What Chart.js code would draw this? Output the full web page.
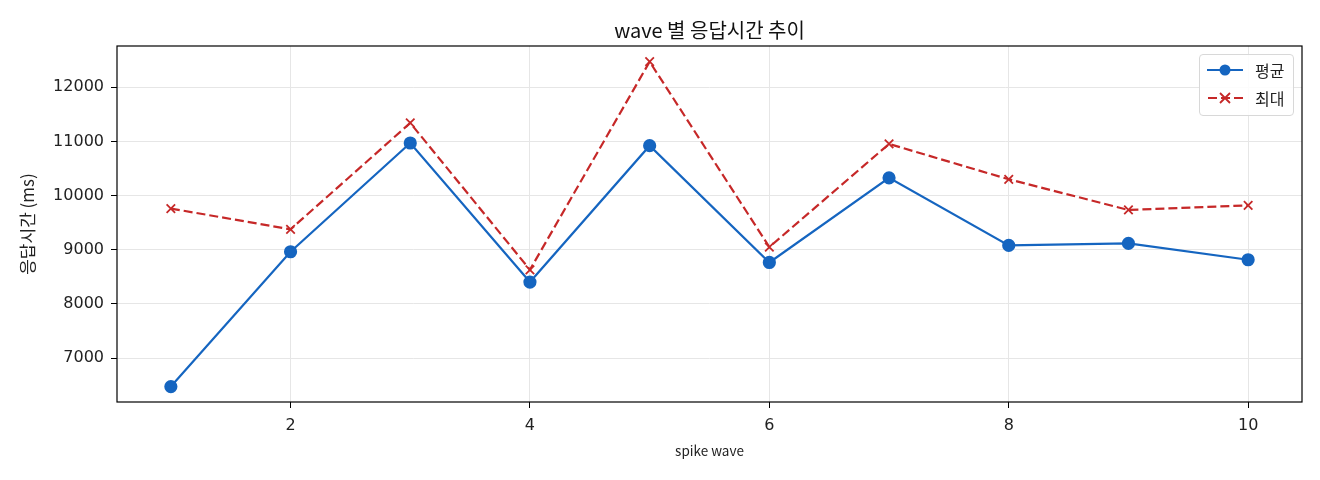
<!DOCTYPE html>
<html>
<head>
<meta charset="utf-8">
<script src="https://cdn.jsdelivr.net/npm/chart.js@4.4.1/dist/chart.umd.min.js"></script>
<style>
  html, body { margin: 0; padding: 0; background: #fff; }
  #wrap { position: relative; width: 1320px; height: 480px; }
  #legend {
    position: absolute; left: 1199px; top: 54px; width: 95px; height: 62px;
    border: 1px solid #d8d8d8; border-radius: 4px; background: rgba(255,255,255,0.85);
    font-family: "Noto Sans CJK KR", sans-serif; font-size: 16px; color: #222;
    box-sizing: border-box;
  }
  .row { position: absolute; left: 5px; height: 20px; display: flex; align-items: center; }
  .row svg { margin-right: 10px; }
</style>
</head>
<body>
<div id="wrap">
  <canvas id="chart" width="1320" height="480"></canvas>
  <div id="legend"></div>
</div>
<script>
const waves = [1, 2, 3, 4, 5, 6, 7, 8, 9, 10];
const avgMs = [6475, 8963, 10970, 8403, 10920, 8765, 10327, 9080, 9117, 8815];
const maxMs = [9760, 9377, 11340, 8630, 12470, 9050, 10952, 10300, 9734, 9820];
const xTicks = [2, 4, 6, 8, 10];
const yTicks = [7000, 8000, 9000, 10000, 11000, 12000];

const blue = "#1565c0";
const red = "#c62828";
const fontFam = '"Noto Sans CJK KR", sans-serif';
const tickFam = '"DejaVu Sans", "Noto Sans CJK KR", sans-serif';

// 축 테두리 (사방)
const frame = {
  id: "frame",
  afterDraw(chart) {
    const a = chart.chartArea, c = chart.ctx;
    c.save();
    c.strokeStyle = "#000";
    c.lineWidth = 1.2;
    c.strokeRect(a.left, a.top, a.right - a.left, a.bottom - a.top);
    c.restore();
  }
};

const ctx = document.getElementById("chart");
new Chart(ctx, {
  type: "line",
  data: {
    datasets: [
      {
        label: "평균",
        data: waves.map((w, i) => ({ x: w, y: avgMs[i] })),
        borderColor: blue,
        backgroundColor: blue,
        borderWidth: 2.2,
        pointStyle: "circle",
        pointRadius: 5.5,
        pointHoverRadius: 5.5,
        tension: 0
      },
      {
        label: "최대",
        data: waves.map((w, i) => ({ x: w, y: maxMs[i] })),
        borderColor: red,
        backgroundColor: red,
        borderWidth: 2.2,
        borderDash: [9, 4],
        pointStyle: "crossRot",
        pointRadius: 6,
        pointHoverRadius: 6,
        pointBorderWidth: 1.8,
        tension: 0
      }
    ]
  },
  options: {
    responsive: false,
    animation: false,
    layout: { padding: { left: 0, right: 18, top: 0, bottom: 0 } },
    plugins: {
      legend: { display: false },
      tooltip: { enabled: false },
      title: {
        display: true,
        text: "wave 별 응답시간 추이",
        fullSize: false,
        color: "#111",
        font: { family: fontFam, size: 20, weight: "normal" },
        padding: { top: 18, bottom: 4 }
      }
    },
    scales: {
      x: {
        type: "linear",
        min: 0.55,
        max: 10.45,
        afterBuildTicks: s => { s.ticks = xTicks.map(v => ({ value: v })); },
        afterFit: s => { s.height = 78; },
        grid: { color: "#e6e6e6", tickColor: "#000", tickLength: 6, lineWidth: 1 },
        border: { display: false },
        ticks: { color: "#222", padding: 8, font: { family: tickFam, size: 16 }, callback: v => String(v) },
        title: {
          display: true, text: "spike wave", color: "#222",
          font: { family: fontFam, size: 13.5 }, padding: { top: 0, bottom: 21 }
        }
      },
      y: {
        type: "linear",
        min: 6190,
        max: 12760,
        afterBuildTicks: s => { s.ticks = yTicks.map(v => ({ value: v })); },
        afterFit: s => { s.width = 117; },
        grid: { color: "#e6e6e6", tickColor: "#000", tickLength: 6, lineWidth: 1 },
        border: { display: false },
        ticks: { color: "#222", padding: 7, font: { family: tickFam, size: 16 }, callback: v => String(v) },
        title: {
          display: true, text: "응답시간 (ms)", color: "#222",
          font: { family: fontFam, size: 17 }, padding: { top: 17, bottom: 0 }
        }
      }
    }
  },
  plugins: [frame]
});

// 범례 (선 + 마커 샘플)
const legend = document.getElementById("legend");
const samples = [
  { label: "평균", top: 5, svg: `<line x1="2" y1="10" x2="38" y2="10" stroke="${blue}" stroke-width="2.2"/><circle cx="20" cy="10" r="5.5" fill="${blue}"/>` },
  { label: "최대", top: 33, svg: `<line x1="2" y1="10" x2="38" y2="10" stroke="${red}" stroke-width="2.2" stroke-dasharray="9,4" stroke-dashoffset="-1"/><path d="M15 5 L25 15 M25 5 L15 15" stroke="${red}" stroke-width="1.8"/>` }
];
samples.forEach(s => {
  const row = document.createElement("div");
  row.className = "row";
  row.style.top = s.top + "px";
  row.innerHTML = `<svg width="40" height="20">${s.svg}</svg><span>${s.label}</span>`;
  legend.appendChild(row);
});
</script>
</body>
</html>
